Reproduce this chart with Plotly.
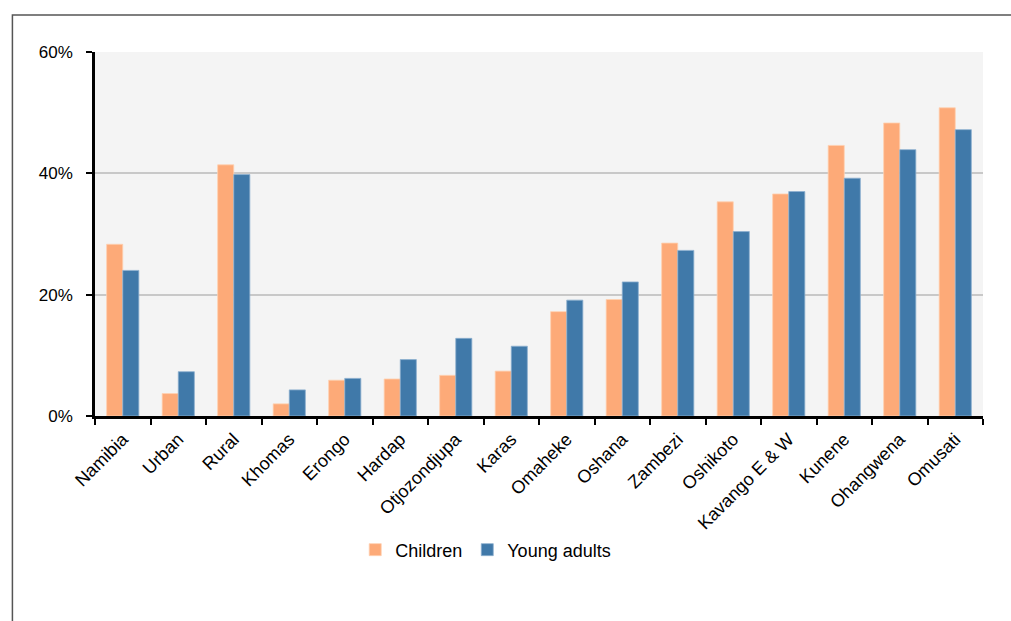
import plotly.graph_objects as go

categories = ["Namibia", "Urban", "Rural", "Khomas", "Erongo", "Hardap", "Otjozondjupa",
              "Karas", "Omaheke", "Oshana", "Zambezi", "Oshikoto", "Kavango E & W",
              "Kunene", "Ohangwena", "Omusati"]
children = [28.3, 3.7, 41.4, 2.0, 5.9, 6.1, 6.7, 7.4, 17.2, 19.2, 28.5, 35.3, 36.6, 44.6, 48.3, 50.8]
young_adults = [24.0, 7.3, 39.8, 4.3, 6.2, 9.3, 12.8, 11.5, 19.1, 22.1, 27.3, 30.4, 37.0, 39.2, 43.9, 47.2]
y_ticks = [0, 20, 40, 60]
y_tick_labels = ["0%", "20%", "40%", "60%"]

font = "Liberation Sans, Arial, sans-serif"

fig = go.Figure()
fig.add_trace(go.Bar(name="Children", x=categories, y=children,
                     marker=dict(color="#FDAA78", line=dict(color="#FFD0B0", width=0.8))))
fig.add_trace(go.Bar(name="Young adults", x=categories, y=young_adults,
                     marker=dict(color="#4079A9", line=dict(color="#8DB0CF", width=0.8))))

fig.update_layout(
    width=1011, height=621,
    margin=dict(l=95, r=28, t=52, b=205),
    paper_bgcolor="white",
    plot_bgcolor="#F4F4F4",
    barmode="group", bargap=0.42, bargroupgap=0,
    font=dict(family=font, size=17, color="black"),
    showlegend=True,
    legend=dict(orientation="h", x=0.44, xanchor="center", y=-0.368, yanchor="middle",
                font=dict(size=18), itemwidth=30, bgcolor="rgba(0,0,0,0)"),
    xaxis=dict(tickangle=-45, showline=True, linecolor="black", linewidth=2.5,
               ticks="outside", tickson="boundaries", ticklen=6, tickwidth=2, tickcolor="black",
               showgrid=False, tickfont=dict(size=18), ticklabelstandoff=3),
    yaxis=dict(range=[0, 60], tickvals=y_ticks, ticktext=y_tick_labels,
               showline=True, linecolor="black", linewidth=2.5,
               ticks="outside", ticklen=6, tickwidth=2, tickcolor="black",
               showgrid=True, gridcolor="#C8C8C8", gridwidth=1.5, zeroline=False,
               tickfont=dict(size=17), ticklabelstandoff=10),
    shapes=[dict(type="rect", xref="paper", yref="paper", x0=-0.093, x1=1.06, y0=-0.65, y1=1.1016,
                 line=dict(color="#555555", width=1.5), fillcolor="rgba(0,0,0,0)", layer="below")],
)

fig.write_html("out.html", config={"displayModeBar": False},
               post_script="document.body.style.margin='0';document.body.style.padding='0';")
